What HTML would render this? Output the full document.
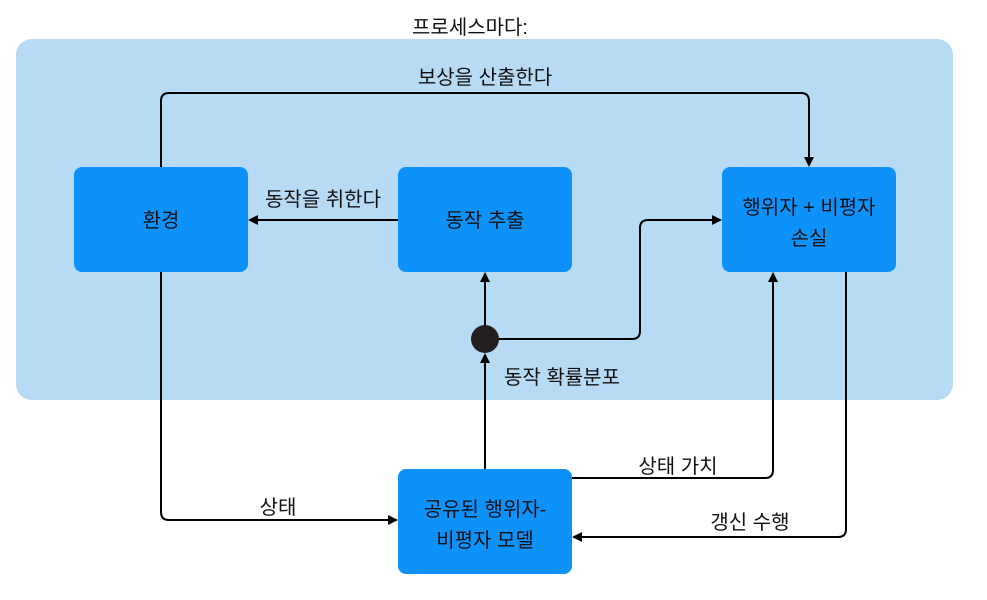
<!DOCTYPE html>
<html><head><meta charset="utf-8"><style>
html,body{margin:0;padding:0;background:#fff;}
svg text{font-family:"Liberation Sans","Noto Sans CJK KR",sans-serif;font-size:20px;fill:#111;}
</style></head><body>
<svg width="987" height="595" viewBox="0 0 987 595" xmlns="http://www.w3.org/2000/svg">
<defs><marker id="a" markerWidth="10" markerHeight="10" refX="8" refY="5" orient="auto" markerUnits="userSpaceOnUse"><path d="M0,0 L10,5 L0,10 z" fill="#000"/></marker></defs>
<text x="470" y="34" text-anchor="middle">프로세스마다:</text>
<rect x="16" y="39" width="937" height="361" rx="16" fill="#b7daf5"/>
<g fill="none" stroke="#000" stroke-width="2">
<path d="M161,167 V101 Q161,93 169,93 H801 Q809,93 809,101 V165" marker-end="url(#a)"/>
<path d="M398,220 H250" marker-end="url(#a)"/>
<path d="M485,325 V274" marker-end="url(#a)"/>
<path d="M499,339 H632 Q640,339 640,331 V228 Q640,220 648,220 H720" marker-end="url(#a)"/>
<path d="M485,469 V355" marker-end="url(#a)"/>
<path d="M161,272 V512 Q161,520 169,520 H396" marker-end="url(#a)"/>
<path d="M572,478 H765 Q773,478 773,470 V274" marker-end="url(#a)"/>
<path d="M846,272 V529 Q846,537 838,537 H574" marker-end="url(#a)"/>
</g>
<circle cx="485" cy="339" r="14" fill="#231f20"/>
<g fill="#0d92fb">
<rect x="74" y="167" width="174" height="105" rx="8"/>
<rect x="398" y="167" width="174" height="105" rx="8"/>
<rect x="722" y="167" width="174" height="105" rx="8"/>
<rect x="398" y="469" width="174" height="105" rx="8"/>
</g>
<text x="161" y="227" text-anchor="middle">환경</text>
<text x="485" y="227" text-anchor="middle">동작 추출</text>
<text x="809" y="214" text-anchor="middle">행위자 + 비평자</text>
<text x="809" y="245" text-anchor="middle">손실</text>
<text x="485" y="516" text-anchor="middle">공유된 행위자-</text>
<text x="485" y="547" text-anchor="middle">비평자 모델</text>
<text x="485" y="84" text-anchor="middle">보상을 산출한다</text>
<text x="323" y="206" text-anchor="middle">동작을 취한다</text>
<text x="562" y="384" text-anchor="middle">동작 확률분포</text>
<text x="278" y="514" text-anchor="middle">상태</text>
<text x="678" y="473" text-anchor="middle">상태 가치</text>
<text x="750" y="529" text-anchor="middle">갱신 수행</text>
</svg>
</body></html>
